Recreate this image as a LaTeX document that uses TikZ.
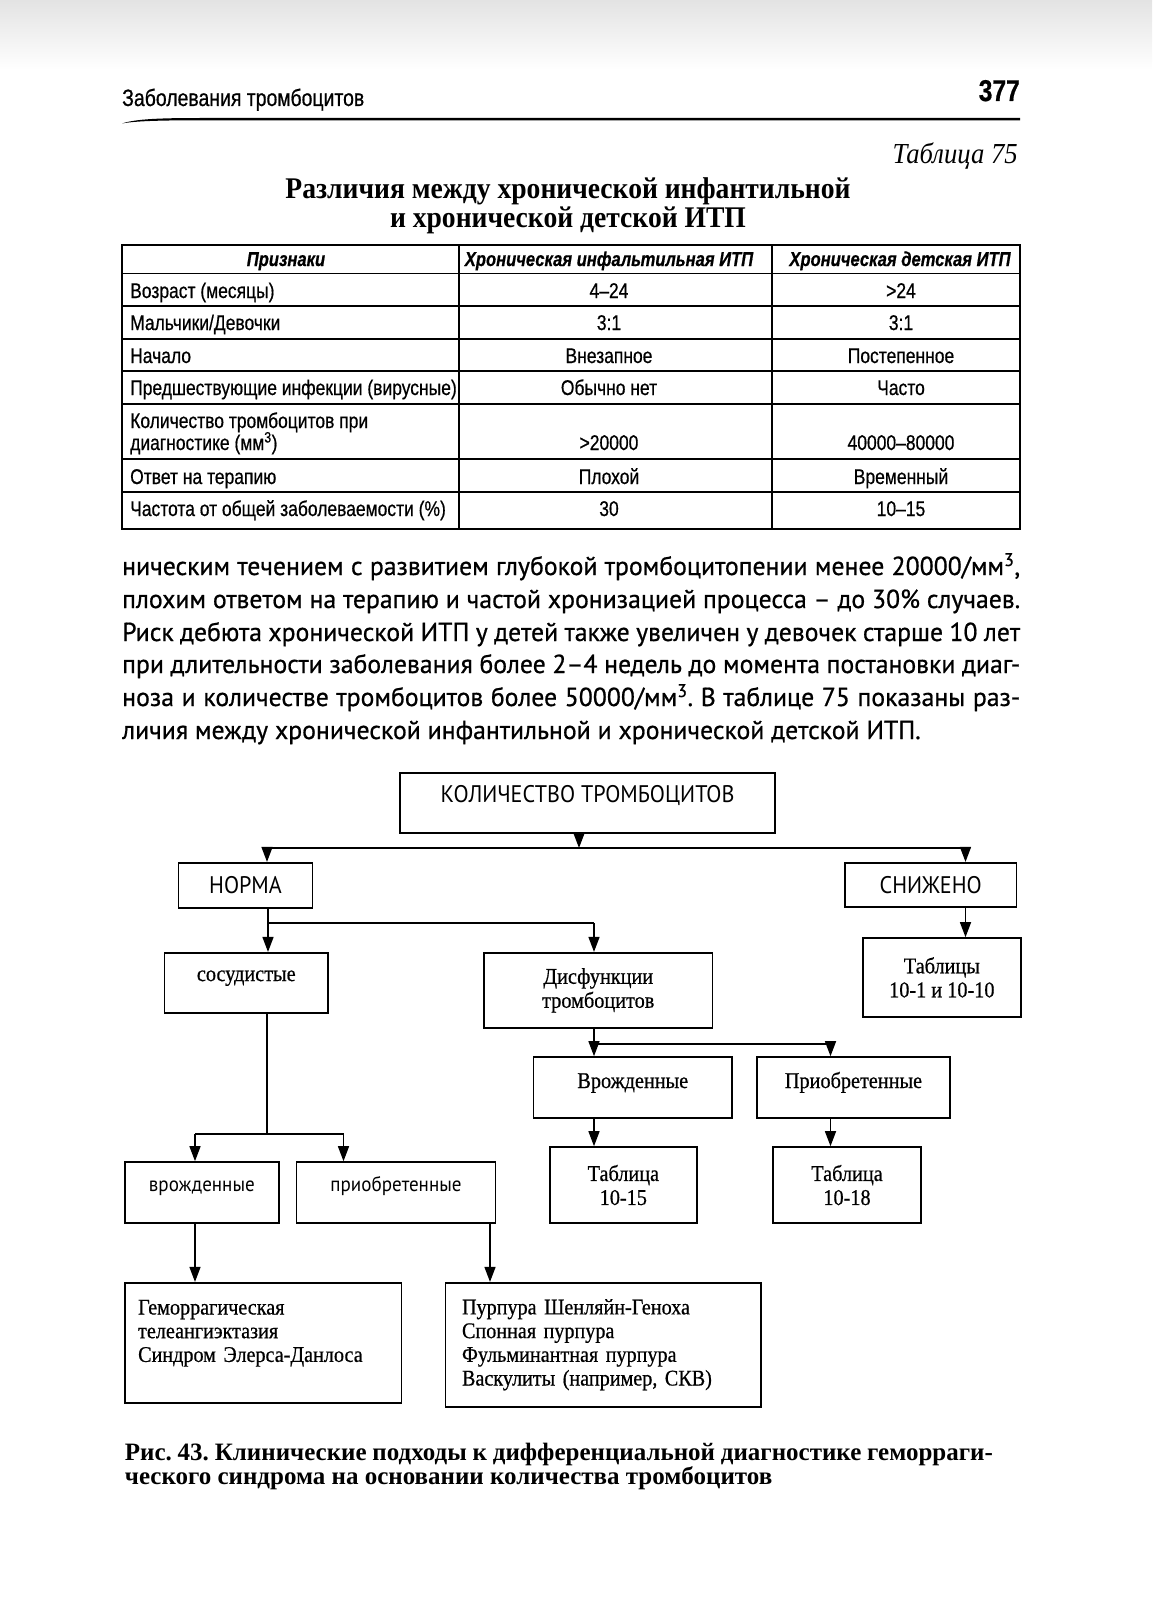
\documentclass[tikz,border=0pt]{standalone}
\usepackage{fontspec}
\setmainfont{Liberation Serif}
\newfontfamily\headsf[FakeStretch=0.82, FakeBold=0.6]{Liberation Sans}
\newfontfamily\bodysf[FakeStretch=0.99, FakeBold=0.7]{PT Sans}
\newfontfamily\chartsf[FakeStretch=0.92]{PT Sans}
\newfontfamily\chartrm[FakeStretch=0.9, FakeBold=0.6]{Liberation Serif}
\newfontfamily\titlerm[FakeStretch=0.92]{Liberation Serif}
\newfontfamily\captrm[FakeStretch=1.0]{Liberation Serif}
\usetikzlibrary{arrows.meta}
\frenchspacing

\begin{document}
\begin{tikzpicture}[x=1pt, y=-1pt,
    box/.style   = {draw, line width=1.6pt, inner sep=0pt, align=center},
    capsf/.style = {font=\chartsf\fontsize{24}{26}\selectfont},
    lowsf/.style = {font=\chartsf\fontsize{20.7}{24}\selectfont},
    txtrm/.style = {font=\chartrm\fontsize{22.5}{24}\selectfont},
    listrm/.style = {font=\chartrm\fontsize{22.4}{23.7}\selectfont},
    arr/.style   = {-{Triangle[length=15pt,width=11pt]}, line width=1.4pt},
    wire/.style  = {line width=1.4pt},
    tline/.style = {line width=1.4pt},
    cell/.style  = {font=\headsf\fontsize{21.3}{24}\selectfont, inner sep=0pt},
    hcell/.style = {cell, font=\headsf\bfseries\itshape\fontsize{20.2}{24}\selectfont},
    para/.style  = {font=\bodysf\fontsize{26}{33}\selectfont, inner sep=0pt, anchor=base west},
    capt/.style  = {font=\captrm\bfseries\fontsize{25}{25}\selectfont, inner sep=0pt, anchor=base west}
]
  \useasboundingbox (0,0) rectangle (1152,1600);
  \shade[top color=gray!22, bottom color=white] (0,0) rectangle (1152,70);

  % running head
  \node[font=\headsf\fontsize{23.7}{26}\selectfont, inner sep=0pt, anchor=base west] (head) at (122,106) {Заболевания тромбоцитов};
  \node[font=\headsf\bfseries\fontsize{30}{32}\selectfont, inner sep=0pt, anchor=base east] (page) at (1020,101) {377};
  \fill (122,123.5) .. controls (135,119) and (160,118) .. (200,118) -- (1020,117.8)
        -- (1020,120.3) -- (200,120.3) .. controls (160,120.3) and (135,121) .. (122,123.5) -- cycle;

  % table caption
  \node[font=\titlerm\itshape\fontsize{29}{30}\selectfont, inner sep=0pt, anchor=base east] (tabno) at (1018,164) {Таблица 75};
  \node[font=\titlerm\bfseries\fontsize{30}{30}\selectfont, inner sep=0pt, anchor=base] (ttl1) at (568,198) {Различия между хронической инфантильной};
  \node[font=\titlerm\bfseries\fontsize{30}{30}\selectfont, inner sep=0pt, anchor=base] (ttl2) at (568,227) {и хронической детской ИТП};

  % table grid
  \draw[tline] (122,245) rectangle (1020,529);
  \foreach \y in {273.5,306,339,371,404,459,492}
    \draw[tline] (122,\y) -- (1020,\y);
  \foreach \x in {459,772}
    \draw[tline] (\x,245) -- (\x,529);

  \node[hcell, anchor=base] (h1) at (286,266) {Признаки};
  \node[hcell, anchor=base] (h2) at (609,266) {Хроническая инфальтильная ИТП};
  \node[hcell, anchor=base] (h3) at (900,266) {Хроническая детская ИТП};

  \node[cell, anchor=base west] (a1) at (130,298) {Возраст (месяцы)};
  \node[cell, anchor=base] (a2) at (609,298) {4–24};
  \node[cell, anchor=base] (a3) at (901,298) {>24};

  \node[cell, anchor=base west] (b1) at (130,330) {Мальчики/Девочки};
  \node[cell, anchor=base] (b2) at (609,330) {3:1};
  \node[cell, anchor=base] (b3) at (901,330) {3:1};

  \node[cell, anchor=base west] (c1) at (130,363) {Начало};
  \node[cell, anchor=base] (c2) at (609,363) {Внезапное};
  \node[cell, anchor=base] (c3) at (901,363) {Постепенное};

  \node[cell, anchor=base west] (d1) at (130,395) {Предшествующие инфекции (вирусные)};
  \node[cell, anchor=base] (d2) at (609,395) {Обычно нет};
  \node[cell, anchor=base] (d3) at (901,395) {Часто};

  \node[cell, anchor=base west] (e1) at (130,428) {Количество тромбоцитов при};
  \node[cell, anchor=base west] (e1b) at (130,450) {диагностике (мм\textsuperscript{3})};
  \node[cell, anchor=base] (e2) at (609,450) {>20000};
  \node[cell, anchor=base] (e3) at (901,450) {40000–80000};

  \node[cell, anchor=base west] (f1) at (130,484) {Ответ на терапию};
  \node[cell, anchor=base] (f2) at (609,484) {Плохой};
  \node[cell, anchor=base] (f3) at (901,484) {Временный};

  \node[cell, anchor=base west] (g1) at (130,516) {Частота от общей заболеваемости (\%)};
  \node[cell, anchor=base] (g2) at (609,516) {30};
  \node[cell, anchor=base] (g3) at (901,516) {10–15};

  % text
  \node[para] (p1) at (122,575) {\makebox[898pt][s]{ническим течением с развитием глубокой тромбоцитопении менее 20000/мм\textsuperscript{3},}};
  \node[para] (p2) at (122,608) {\makebox[898pt][s]{плохим ответом на терапию и частой хронизацией процесса – до 30\% случаев.}};
  \node[para] (p3) at (122,641) {\makebox[898pt][s]{Риск дебюта хронической ИТП у детей также увеличен у девочек старше 10 лет}};
  \node[para] (p4) at (122,673) {\makebox[898pt][s]{при длительности заболевания более 2–4 недель до момента постановки диаг-}};
  \node[para] (p5) at (122,706) {\makebox[898pt][s]{ноза и количестве тромбоцитов более 50000/мм\textsuperscript{3}. В таблице 75 показаны раз-}};
  \node[para] (p6) at (122,739) {личия между хронической инфантильной и хронической детской ИТП.};

  % flow chart
  \node[box, capsf, minimum width=375pt, text height=29.5pt, text depth=30.5pt] (cnt) at (587.5,803) {КОЛИЧЕСТВО ТРОМБОЦИТОВ};
  \node[box, capsf, minimum width=134pt, minimum height=45pt] (norm) at (245.5,885.2) {НОРМА};
  \node[box, capsf, minimum width=171.5pt, minimum height=44pt] (low) at (930.7,884.7) {СНИЖЕНО};
  \node[box, txtrm, minimum width=163.4pt, text height=28.3pt, text depth=32pt] (vasc) at (246.3,982.9) {сосудистые};
  \node[box, txtrm, minimum width=228.5pt, minimum height=75.3pt] (dysf) at (598.25,990.35) {Дисфункции\\тромбоцитов};
  \node[box, txtrm, minimum width=158.3pt, minimum height=78.7pt] (tabs) at (941.85,977.35) {Таблицы\\10-1 и 10-10};
  \node[box, txtrm, minimum width=198.4pt, text height=31pt, text depth=30pt] (congen) at (632.8,1087.5) {Врожденные};
  \node[box, txtrm, minimum width=193pt, text height=31pt, text depth=30pt] (acq) at (853.5,1087.5) {Приобретенные};
  \node[box, txtrm, minimum width=146.7pt, minimum height=76pt] (t15) at (623.35,1185) {Таблица\\10-15};
  \node[box, txtrm, minimum width=148pt, minimum height=76pt] (t18) at (847,1185) {Таблица\\10-18};
  \node[box, lowsf, minimum width=154.3pt, text height=29pt, text depth=32pt] (vcong) at (201.85,1192.5) {врожденные};
  \node[box, lowsf, minimum width=198.9pt, text height=29pt, text depth=32pt] (vacq) at (396,1192.5) {приобретенные};
  \node[box, listrm, minimum width=276.9pt, minimum height=120pt, text width=250pt, align=left] (hered) at (263.15,1342.7)
       {Геморрагическая\\телеангиэктазия\\Синдром Элерса-Данлоса\\\mbox{}};
  \node[box, listrm, minimum width=315.4pt, minimum height=124pt, text width=282.6pt, align=left] (purp) at (603.3,1344.7)
       {Пурпура Шенляйн-Геноха\\Спонная пурпура\\Фульминантная пурпура\\Васкулиты (например, СКВ)};

  \coordinate (b0) at (579,848);
  \coordinate (bl) at (267,848);
  \coordinate (br) at (965.5,848);
  \draw[arr] (cnt.south -| b0) -- (b0);
  \draw[wire] (bl) -- (br);
  \draw[arr] (bl) -- (bl |- norm.north);
  \draw[arr] (br) -- (br |- low.north);

  \coordinate (nl) at (268,923);
  \coordinate (nr) at (594,923);
  \draw[wire] (norm.south -| nl) -- (nl) -- (nr);
  \draw[arr] (nl) -- (nl |- vasc.north);
  \draw[arr] (nr) -- (nr |- dysf.north);
  \draw[arr] (low.south -| br) -- (tabs.north -| br);

  \coordinate (dl) at (594,1044);
  \coordinate (dr) at (830.5,1044);
  \draw[wire] (dysf.south -| dl) -- (dl) -- (dr);
  \draw[arr] (dl) -- (dl |- congen.north);
  \draw[arr] (dr) -- (dr |- acq.north);
  \draw[arr] (congen.south -| dl) -- (t15.north -| dl);
  \draw[arr] (acq.south -| dr) -- (t18.north -| dr);

  \coordinate (vj) at (267,1134);
  \coordinate (vl) at (195,1134);
  \coordinate (vr) at (343.5,1134);
  \coordinate (px) at (490,1250);
  \draw[wire] (vasc.south -| vj) -- (vj);
  \draw[wire] (vl) -- (vr);
  \draw[arr] (vl) -- (vl |- vcong.north);
  \draw[arr] (vr) -- (vr |- vacq.north);
  \draw[arr] (vcong.south -| vl) -- (hered.north -| vl);
  \draw[arr] (vacq.south -| px) -- (purp.north -| px);

  % figure caption
  \node[capt] (cap1) at (124.7,1460) {\makebox[868pt][s]{Рис. 43. Клинические подходы к дифференциальной диагностике геморраги-}};
  \node[capt] (cap2) at (124.7,1484.5) {ческого синдрома на основании количества тромбоцитов};
\end{tikzpicture}
\end{document}
